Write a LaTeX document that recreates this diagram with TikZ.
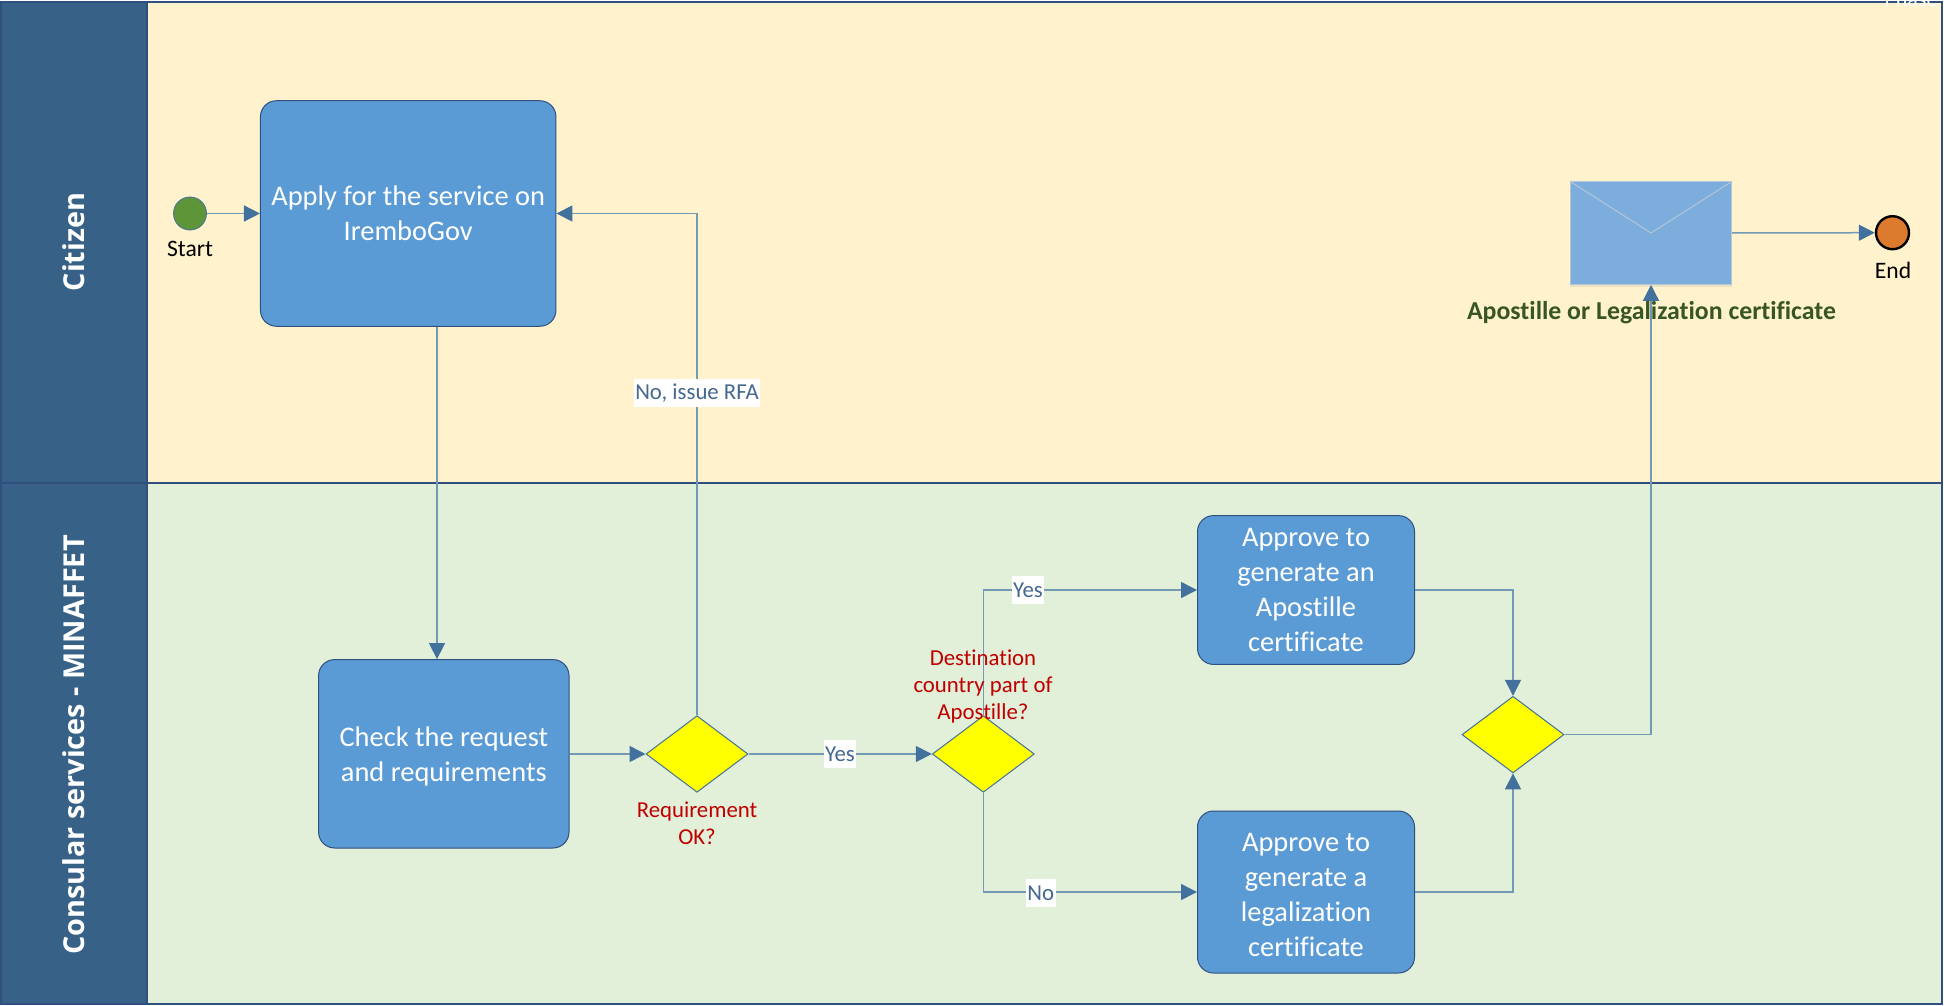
\documentclass[tikz,border=0pt]{standalone}
\usepackage{fontspec}
\setmainfont[Ligatures=NoCommon]{Carlito}
\newfontfamily\headfont{Open Sans}
\usepackage{xcolor}
\usetikzlibrary{arrows.meta,shapes.geometric,shadows}
\definecolor{lanetop}{HTML}{FFF2CC}
\definecolor{lanelow}{HTML}{E2EFD9}
\definecolor{headblue}{HTML}{376187}
\definecolor{edgeblue}{HTML}{2F4F7F}
\definecolor{taskblue}{HTML}{5B9BD5}
\definecolor{lineblue}{HTML}{7399B4}
\definecolor{tipblue}{HTML}{41719C}
\definecolor{tagblue}{HTML}{44688F}
\definecolor{mailblue}{HTML}{7CADDC}
\definecolor{mailedge}{HTML}{B4C6D8}
\definecolor{askred}{HTML}{C00000}
\definecolor{notegreen}{HTML}{375623}
\definecolor{gateyellow}{HTML}{FFFF00}
\definecolor{startgreen}{HTML}{5F9539}
\definecolor{endorange}{HTML}{DC7A2E}
\tikzset{
  lane/.style={draw=edgeblue, line width=0.8pt},
  head/.style={text=white, font=\headfont\bfseries\fontsize{14.4}{17}\selectfont, rotate=90},
  task/.style={draw=edgeblue, fill=taskblue, rounded corners=8pt, line width=0.5pt, align=center, text=white, inner sep=0pt, font=\fontsize{14.2}{17.5}\selectfont},
  gate/.style={diamond, draw=tipblue, fill=gateyellow, line width=0.5pt, inner sep=0pt, minimum width=51pt, minimum height=38.3pt},
  flow/.style={draw=lineblue, line width=0.75pt, -{Triangle[length=8pt,width=8pt,color=tipblue]}},
  tag/.style={fill=white, text=tagblue, inner xsep=0.8pt, inner ysep=0pt, minimum height=14pt, font=\fontsize{11.4}{13}\selectfont},
  ask/.style={text=askred, align=center, inner sep=0pt, font=\fontsize{11.4}{13.6}\selectfont},
  lab/.style={text=black, inner sep=0pt, font=\fontsize{11.8}{13}\selectfont},
}
\begin{document}
\begin{tikzpicture}[x=0.5pt,y=-0.5pt]
  \useasboundingbox (0,0) rectangle (1944,1006);
  \path[lane,fill=lanetop] (147,2) rectangle (1942,483);
  \path[lane,fill=lanelow] (147,483) rectangle (1942,1004);
  \path[lane,fill=headblue] (1,2) rectangle (147,483);
  \path[lane,fill=headblue] (1,483) rectangle (147,1004);
  \node[head] (citizen) at (74,242) {Citizen};
  \node[head] (consular) at (74,745) {Consular services - MINAFFET};
  \begin{scope}
    \clip (1800,0) rectangle (1944,8);
    \node[text=white, inner sep=0pt, anchor=base, font=\fontsize{11}{13}\selectfont] (phase) at (1911,7) {Phase};
  \end{scope}

  \node[circle, draw=tipblue, fill=startgreen, line width=0.4pt, minimum size=16.5pt, inner sep=0pt] (start) at (190,213.5) {};
  \node[lab] (startlab) at (190,249) {Start};
  \node[task, minimum width=147.75pt, minimum height=112.75pt] (apply) at (408.2,213.5) {Apply for the service on\\IremboGov};
  \node[task, minimum width=125.2pt, minimum height=94.2pt] (check) at (443.8,753.8) {\rule{0pt}{12pt}Check the request\\and requirements};
  \node[gate] (reqok) at (697,754) {};
  \node[ask] (reqlab) at (697,823) {Requirement\\OK?};
  \node[gate] (dest) at (983.3,754) {};
  \node[task, minimum width=108.5pt, minimum height=74.4pt] (apost) at (1306,590) {Approve to\\generate an\\Apostille\\certificate};
  \node[task, minimum width=108.5pt, minimum height=81pt] (legal) at (1306,892) {\rule{0pt}{12pt}Approve to\\generate a\\legalization\\certificate};
  \node[gate] (merge) at (1513,734.6) {};
  \node[rectangle, draw=mailedge, fill=mailblue, line width=0.6pt, minimum width=80.6pt, minimum height=51.2pt, inner sep=0pt, drop shadow={opacity=0.15, shadow xshift=0pt, shadow yshift=-1.5pt}] (mail) at (1651,233) {};
  \node[circle, draw=black, fill=endorange, line width=1.2pt, minimum size=16.5pt, inner sep=0pt] (finish) at (1892.5,232.7) {};
  \node[lab] (finishlab) at (1893,270) {End};

  \draw[mailedge, line width=0.5pt] (mail.north west) -- (mail.center) -- (mail.north east);
  \coordinate (drop) at (437,400);

  \draw[flow] (start) -- (apply);
  \draw[flow] (drop |- apply.south) -- (drop |- check.north);
  \draw[flow] (check.east |- reqok) -- (reqok);
  \draw[flow] (reqok.north) |- (apply.east);
  \draw[flow] (reqok.east) -- (dest.west);
  \draw[flow] (dest.north) |- (apost.west);
  \draw[flow] (dest.south) |- (legal.west);
  \draw[flow] (apost.east) -| (merge.north);
  \draw[flow] (legal.east) -| (merge.south);
  \draw[flow] (merge.east) -| (mail.south);
  \draw[flow] (mail.east) -- (finish.west);

  \node[ask] (destlab) at (983,686.5) {Destination\\country part of\\Apostille?};
  \node[font=\bfseries\fontsize{12.9}{14}\selectfont, text=notegreen, inner sep=0pt] (maillab) at (1651.5,313) {Apostille or Legalization certificate};
  \node[tag] (rfa) at (697,393) {No, issue RFA};
  \node[tag] (yesa) at (840,754) {Yes};
  \node[tag] (yesb) at (1028,590) {Yes};
  \node[tag] (nob) at (1040.7,893) {No};
\end{tikzpicture}
\end{document}
